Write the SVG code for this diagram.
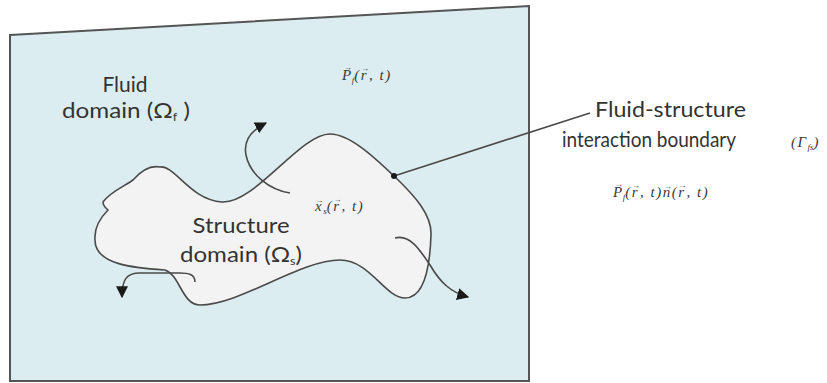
<svg xmlns="http://www.w3.org/2000/svg" width="827" height="383" viewBox="0 0 827 383">
<defs>
<marker id="ah" viewBox="0 0 10 10" refX="9" refY="5" markerWidth="12" markerHeight="12" markerUnits="userSpaceOnUse" orient="auto">
<path d="M0,0 L10,5 L0,10 Z" fill="#1a1a1a"/>
</marker>
<style>
.lbl{font-family:Lato,"Open Sans","Liberation Sans",sans-serif;font-size:21px;fill:#333}
.math{font-family:"Liberation Serif","DejaVu Serif",serif;font-style:italic;font-size:15px;letter-spacing:1.5px;fill:#3a3a3a}
.vec{font-size:8px;font-style:normal;letter-spacing:0}
.sub{font-size:9px;letter-spacing:0}
.edge{fill:none;stroke:#4a4a4a;stroke-width:1.6}
</style>
</defs>
<rect width="827" height="383" fill="#ffffff"/>
<g id="fluid-domain">
<polygon points="10,35 529,6 529,381 10,381" fill="#dcedf1" stroke="#555" stroke-width="2"/>
<text class="lbl" x="125" y="92" text-anchor="middle" font-size="22">Fluid</text>
<text class="lbl" x="62" y="118" textLength="128" lengthAdjust="spacingAndGlyphs">domain (Ω<tspan font-size="11" dy="3">f</tspan><tspan dy="-3"> )</tspan></text>
<text class="math" x="342" y="80">P<tspan class="vec" dx="-9" dy="-10">→</tspan><tspan class="sub" dy="13">f</tspan><tspan dy="-3">(r</tspan><tspan class="vec" dx="-7" dy="-9">→</tspan><tspan dy="9">, t)</tspan></text>
</g>
<g id="structure-domain">
<path d="M160,167 C175,165 190,200 222,202 C255,204 300,134 330,134 C350,134 375,158 394,176 C415,196 432,215 431,235 C430,265 425,298 405,298 C385,298 370,260 340,260 C300,260 240,305 200,305 C182,305 180,275 165,270 C135,268 95,265 95,240 C94,228 100,218 108,210 Q103,206 103,202 C110,192 125,186 133,180 C140,172 150,165 160,167 Z" fill="#f3f3f3" stroke="#4a4a4a" stroke-width="1.6"/>
<text class="lbl" x="241" y="233" text-anchor="middle" textLength="97" lengthAdjust="spacingAndGlyphs">Structure</text>
<text class="lbl" x="180" y="262" textLength="122" lengthAdjust="spacingAndGlyphs">domain (Ω<tspan font-size="11" dy="3">s</tspan><tspan dy="-3">)</tspan></text>
<text class="math" x="315" y="211">x<tspan class="vec" dx="-8" dy="-8">→</tspan><tspan class="sub" dy="11">s</tspan><tspan dy="-3">(r</tspan><tspan class="vec" dx="-7" dy="-9">→</tspan><tspan dy="9">, t)</tspan></text>
</g>
<g id="interface-label">
<text class="lbl" x="595" y="117" textLength="151" lengthAdjust="spacingAndGlyphs">Fluid-structure</text>
<text class="lbl" x="562" y="147" textLength="174" lengthAdjust="spacingAndGlyphs">interaction boundary</text>
<text class="math" x="791" y="147">(Γ<tspan class="sub" dy="3">fs</tspan><tspan dy="-3">)</tspan></text>
<text class="math" x="613" y="197">P<tspan class="vec" dx="-9" dy="-10">→</tspan><tspan class="sub" dy="13">f</tspan><tspan dy="-3">(r</tspan><tspan class="vec" dx="-7" dy="-9">→</tspan><tspan dy="9">, t)n</tspan><tspan class="vec" dx="-8" dy="-8">→</tspan><tspan dy="8">(r</tspan><tspan class="vec" dx="-7" dy="-9">→</tspan><tspan dy="9">, t)</tspan></text>
</g>
<g id="connectors">
<line class="edge" x1="394" y1="176" x2="590" y2="113"/>
<circle cx="394" cy="176" r="3" fill="#1a1a1a"/>
<path class="edge" d="M290,193 C270,190 250,175 246,155 C243,140 252,130 266,123" marker-end="url(#ah)"/>
<path class="edge" d="M395,238 C410,234 420,250 430,265 C440,282 450,292 468,297" marker-end="url(#ah)"/>
<path class="edge" d="M195,282 C195,274 188,273 180,273 L140,273 C126,273 122,280 122,297" marker-end="url(#ah)"/>
</g>
</svg>
